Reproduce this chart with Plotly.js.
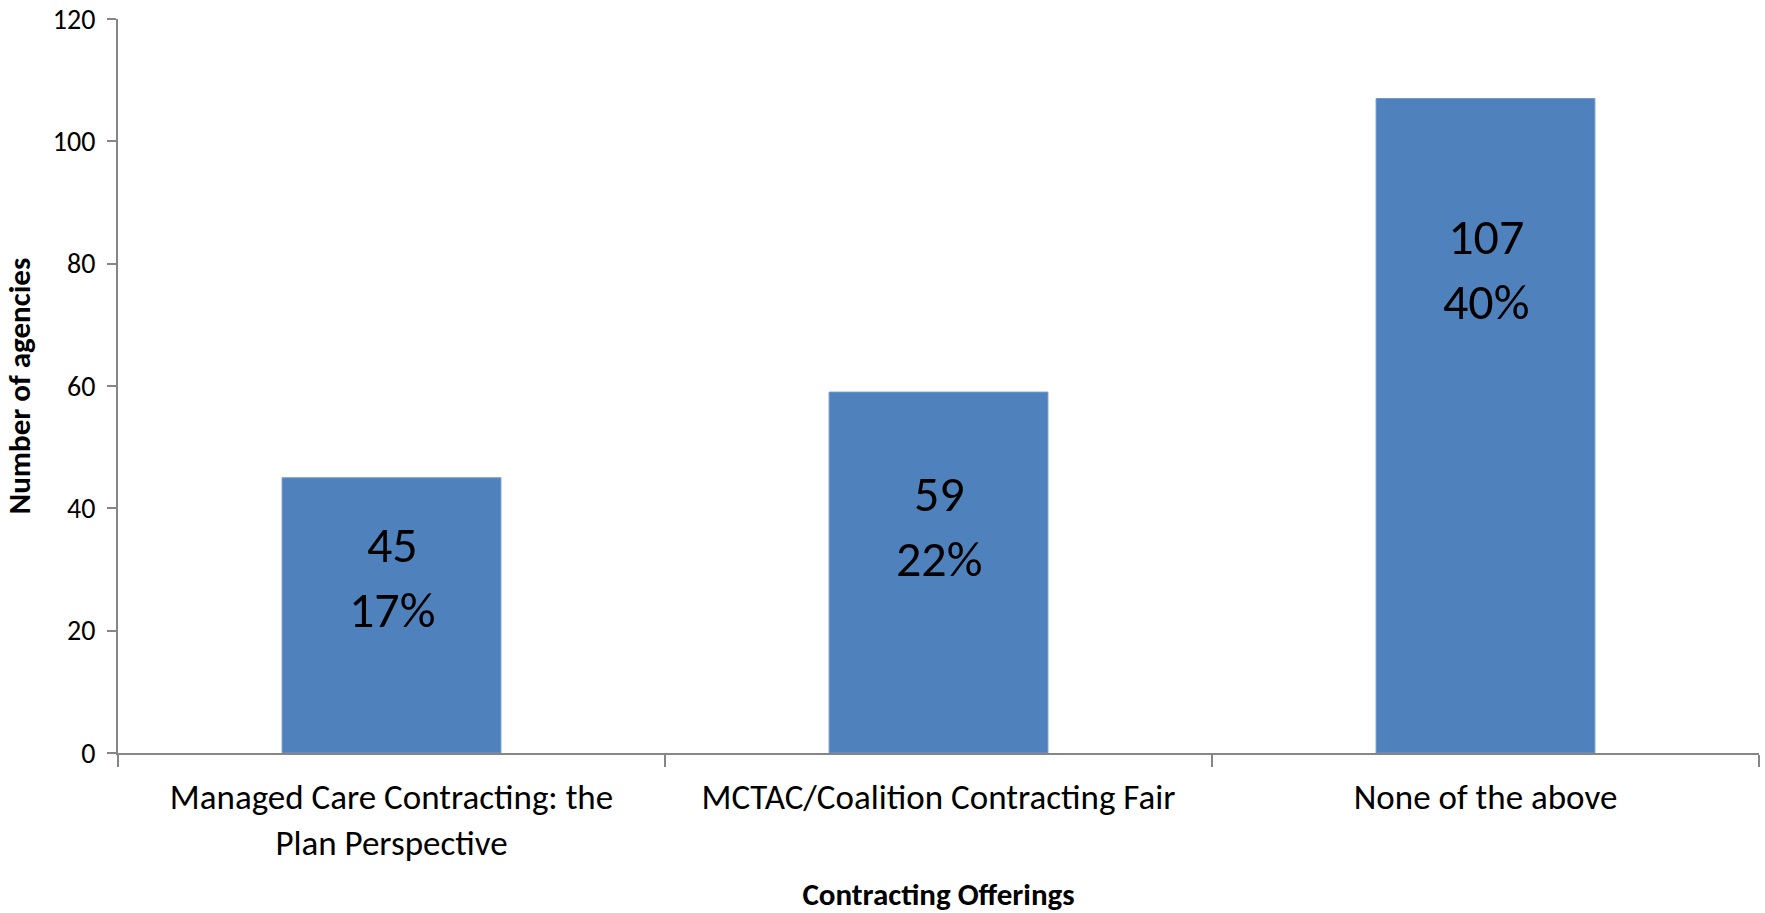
<!DOCTYPE html>
<html>
<head>
<meta charset="utf-8">
<script src="https://cdn.plot.ly/plotly-3.0.1.min.js"></script>
<style>html,body{margin:0;padding:0;background:#fff;}#chart{width:1765px;height:913px;}</style>
</head>
<body>
<div id="chart"></div>
<script>
const categories = ["Managed Care Contracting: the<br>Plan Perspective", "MCTAC/Coalition Contracting Fair", "None of the above"];
const counts = [45, 59, 107];
const percents = ["17%", "22%", "40%"];
const yTicks = [0, 20, 40, 60, 80, 100, 120];

const FONT = "Carlito, Lato, 'Open Sans', sans-serif";
const labelFrac = [0.64, 0.63, 0.74];

const trace = {
  type: "bar",
  x: categories,
  y: counts,
  marker: {color: "#4F81BD", line: {color: "#6f98cc", width: 1}},
  hoverinfo: "x+y"
};

const annotations = categories.map((c, i) => ({
  x: c, y: counts[i] * labelFrac[i], xref: "x", yref: "y",
  text: counts[i] + "<br>" + percents[i],
  showarrow: false,
  font: {family: FONT, size: 50, color: "#000"},
  align: "center"
}));

const layout = {
  width: 1765, height: 913,
  margin: {l: 118, r: 6, t: 19, b: 160},
  paper_bgcolor: "#fff", plot_bgcolor: "#fff",
  showlegend: false,
  bargap: 0.6,
  font: {family: FONT, color: "#000"},
  xaxis: {
    type: "category",
    showline: true, linecolor: "#868686", linewidth: 2,
    ticks: "outside", tickson: "boundaries", ticklen: 12, tickcolor: "#868686", tickwidth: 2,
    tickfont: {family: FONT, size: 35, color: "#000"},
    ticklabelstandoff: 12,
    showgrid: false, zeroline: false,
    title: {text: "<b>Contracting Offerings</b>", font: {family: FONT, size: 31, color: "#000"}, standoff: 28}
  },
  yaxis: {
    range: [0, 120], tickvals: yTicks, ticktext: yTicks.map(String),
    showline: true, linecolor: "#868686", linewidth: 2,
    ticks: "outside", ticklen: 9, tickcolor: "#868686", tickwidth: 2,
    tickfont: {family: FONT, size: 28, color: "#000"},
    ticklabelstandoff: 6,
    showgrid: false, zeroline: false,
    title: {text: "<b>Number of agencies</b>", font: {family: FONT, size: 31, color: "#000"}, standoff: 14}
  },
  annotations: annotations
};

Plotly.newPlot("chart", [trace], layout, {displayModeBar: false, staticPlot: true});
</script>
</body>
</html>
